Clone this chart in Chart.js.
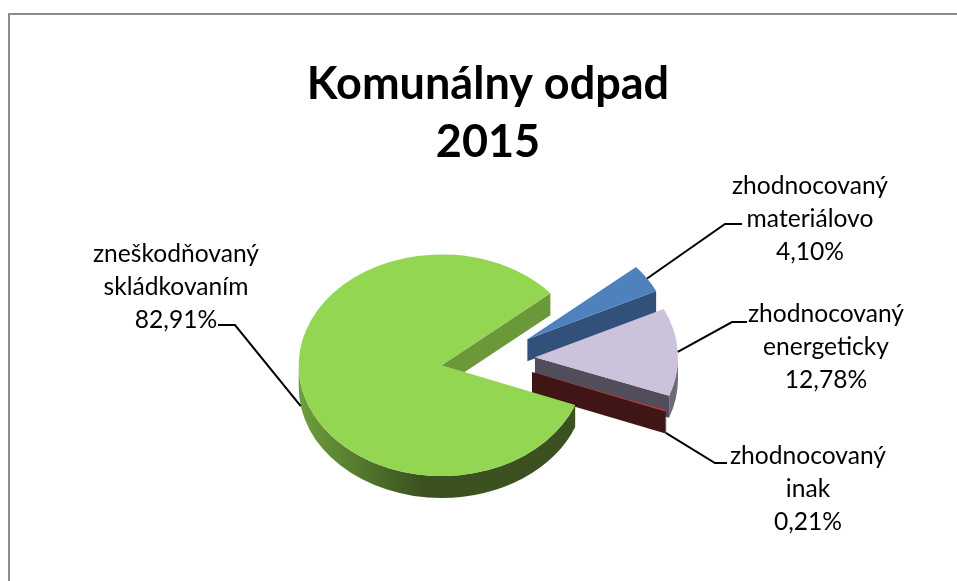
<!DOCTYPE html>
<html>
<head>
<meta charset="utf-8">
<title>Komunálny odpad 2015</title>
<script src="https://cdn.jsdelivr.net/npm/chart.js@4"></script>
<style>
  html, body { margin: 0; padding: 0; background: #fff; overflow: hidden; }
  #wrap { position: relative; width: 957px; height: 581px; overflow: hidden; }
  #frame { position: absolute; left: 8px; top: 13px; width: 1000px; height: 640px; border: 2px solid #8c8c8c; box-sizing: border-box; }
  canvas { position: absolute; left: 0; top: 0; }
</style>
</head>
<body>
<div id="wrap">
  <div id="frame"></div>
  <canvas id="chart" width="957" height="581"></canvas>
</div>
<script>
// chart data
const titleLines = ['Komunálny odpad', '2015'];
const categories = [
    ['zneškodňovaný', 'skládkovaním'],
    ['zhodnocovaný', 'materiálovo'],
    ['zhodnocovaný', 'energeticky'],
    ['zhodnocovaný', 'inak']
];
const values = [82.91, 4.10, 12.78, 0.21];

// colours: top face, cut face, rim start, rim end
const topColors = ['#93d652', '#4f81bd', '#cdc2dc', '#c0392f'];
const cutColors = ['#6b9838', '#31517a', '#524d5a', '#3f1615'];
const rimColors = [['#6f9f3c', '#3b5220'], ['#31517a', '#31517a'], ['#6e6878', '#6e6878'], ['#3f1615', '#3f1615']];

// 3D look
const tilt = 0.775;
const depth = 22;
const explode = 47;

// where the label blocks sit, and the elbow of each leader line
const labelBoxes = [
    { x: 176, y: 254, elbowX: 235, elbowY: 325, endX: 218 },
    { x: 810, y: 186, elbowX: 725, elbowY: 224, endX: 742 },
    { x: 826, y: 314, elbowX: 732, elbowY: 322, endX: 747 },
    { x: 808, y: 456, elbowX: 715, elbowY: 463, endX: 727 }
];
const labelLineHeight = 33;

function sliceCenter(arc) {
    const mid = (arc.startAngle + arc.endAngle) / 2;
    return {
        x: arc.x + Math.cos(mid) * explode,
        y: arc.y + Math.sin(mid) * explode * tilt,
        mid: mid
    };
}

function drawFace(ctx, c, r, angle, color) {
    const px = c.x + Math.cos(angle) * r;
    const py = c.y + Math.sin(angle) * r * tilt;
    ctx.fillStyle = color;
    ctx.beginPath();
    ctx.moveTo(c.x, c.y);
    ctx.lineTo(px, py);
    ctx.lineTo(px, py + depth);
    ctx.lineTo(c.x, c.y + depth);
    ctx.closePath();
    ctx.fill();
}

function drawRim(ctx, c, r, a0, a1, colors) {
    // angles run past a full turn because of the rotation option
    if (a0 > Math.PI) {
        a0 -= Math.PI * 2;
        a1 -= Math.PI * 2;
    }
    // only the front half of the rim can be seen
    const from = Math.max(a0, 0);
    const to = Math.min(a1, Math.PI);
    if (to <= from) return;
    const g = ctx.createLinearGradient(c.x - r, 0, c.x - r * 0.15, 0);
    g.addColorStop(0, colors[0]);
    g.addColorStop(1, colors[1]);
    ctx.fillStyle = g;
    ctx.beginPath();
    ctx.ellipse(c.x, c.y, r, r * tilt, 0, from, to);
    ctx.ellipse(c.x, c.y + depth, r, r * tilt, 0, to, from, true);
    ctx.closePath();
    ctx.fill();
}

const pie3d = {
    id: 'pie3d',
    beforeDatasetsDraw(chart) {
        const ctx = chart.ctx;
        const arcs = chart.getDatasetMeta(0).data;
        // back to front, the big slice last
        [1, 2, 3, 0].forEach(i => {
            const arc = arcs[i];
            const c = sliceCenter(arc);
            const r = arc.outerRadius;
            if (Math.cos(arc.endAngle) > 0) drawFace(ctx, c, r, arc.endAngle, cutColors[i]);
            if (Math.cos(arc.startAngle) < 0) drawFace(ctx, c, r, arc.startAngle, cutColors[i]);
            drawRim(ctx, c, r, arc.startAngle, arc.endAngle, rimColors[i]);
            // top face is the library's own arc, squashed
            ctx.save();
            ctx.translate(c.x, c.y);
            ctx.scale(1, tilt);
            ctx.translate(-arc.x, -arc.y);
            arc.draw(ctx);
            ctx.restore();
        });
        return false;
    },
    afterDraw(chart) {
        const ctx = chart.ctx;
        const arcs = chart.getDatasetMeta(0).data;
        arcs.forEach((arc, i) => {
            const c = sliceCenter(arc);
            const r = arc.outerRadius;
            const box = labelBoxes[i];
            const sx = c.x + Math.cos(c.mid) * r;
            const sy = c.y + Math.sin(c.mid) * r * tilt + (Math.sin(c.mid) > 0 ? depth : 0);
            ctx.strokeStyle = '#000';
            ctx.lineWidth = 2;
            ctx.beginPath();
            ctx.moveTo(sx, sy);
            ctx.lineTo(box.elbowX, box.elbowY);
            ctx.lineTo(box.endX, box.elbowY);
            ctx.stroke();

            const lines = categories[i].concat(values[i].toFixed(2).replace('.', ',') + '%');
            ctx.fillStyle = '#000';
            ctx.font = '24.6px Lato';
            ctx.textAlign = 'center';
            ctx.textBaseline = 'middle';
            lines.forEach((t, k) => ctx.fillText(t, box.x, box.y + k * labelLineHeight));
        });
    }
};

new Chart(document.getElementById('chart'), {
    type: 'pie',
    data: {
        labels: categories.map(c => c.join(' ')),
        datasets: [{
            data: values,
            backgroundColor: topColors,
            borderWidth: 0
        }]
    },
    plugins: [pie3d],
    options: {
        responsive: false,
        animation: false,
        rotation: 111,
        radius: 143,
        layout: { padding: { left: 19, top: 0, right: 0, bottom: 34 } },
        plugins: {
            legend: { display: false },
            tooltip: { enabled: false },
            title: {
                display: true,
                text: titleLines,
                color: '#000',
                font: { family: 'Lato', size: 45, weight: 'bold', lineHeight: 1.29 },
                padding: { top: 55, bottom: 0 }
            }
        }
    }
});
</script>
</body>
</html>
